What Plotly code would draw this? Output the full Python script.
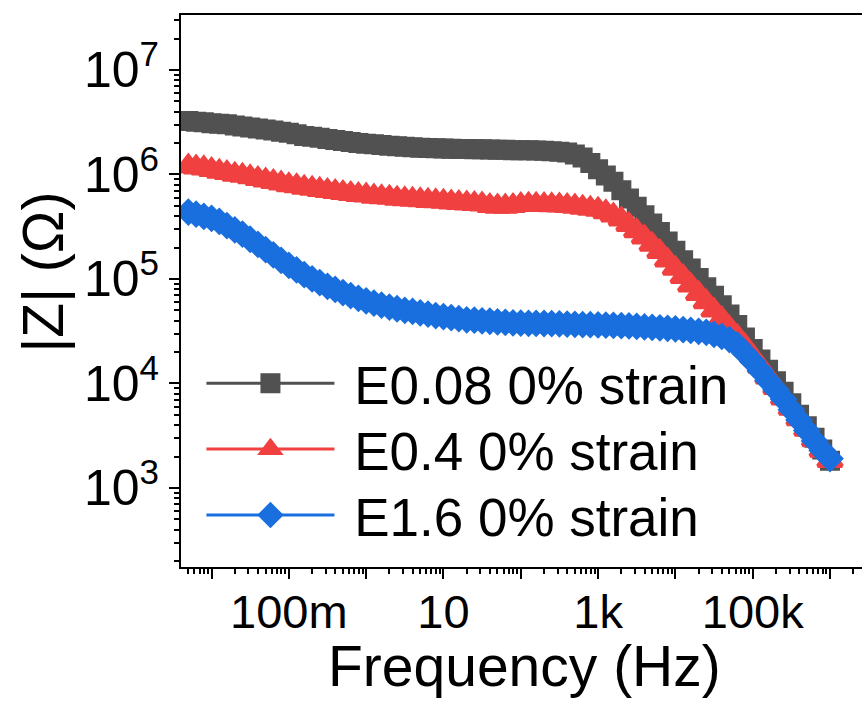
import plotly.graph_objects as go

freq_hz = [
    0.00501, 0.00631, 0.00794, 0.01, 0.0126, 0.0158, 0.02, 0.0251, 0.0316, 0.0398,
    0.0501, 0.0631, 0.0794, 0.1, 0.126, 0.158, 0.2, 0.251, 0.316, 0.398,
    0.501, 0.631, 0.794, 1, 1.26, 1.58, 2, 2.51, 3.16, 3.98,
    5.01, 6.31, 7.94, 10, 12.6, 15.8, 20, 25.1, 31.6, 39.8,
    50.1, 63.1, 79.4, 100, 126, 158, 200, 251, 316, 398,
    501, 631, 794, 1000, 1260, 1580, 2000, 2510, 3160, 3980,
    5010, 6310, 7940, 1e4, 12600, 15800, 20000, 25100, 31600, 39800,
    50100, 63100, 79400, 1e5, 126000, 158000, 200000, 251000, 316000, 398000,
    501000, 631000, 794000, 1e6,
]

z_e008 = [
    3.24e6, 3.20e6, 3.16e6, 3.09e6, 3.05e6, 3.02e6, 2.95e6, 2.88e6, 2.82e6, 2.75e6,
    2.69e6, 2.63e6, 2.57e6, 2.51e6, 2.43e6, 2.34e6, 2.29e6, 2.24e6, 2.19e6, 2.14e6,
    2.09e6, 2.04e6, 2.00e6, 1.97e6, 1.95e6, 1.91e6, 1.88e6, 1.86e6, 1.84e6, 1.82e6,
    1.80e6, 1.79e6, 1.78e6, 1.77e6, 1.76e6, 1.75e6, 1.75e6, 1.74e6, 1.74e6, 1.73e6,
    1.72e6, 1.72e6, 1.71e6, 1.71e6, 1.71e6, 1.70e6, 1.69e6, 1.67e6, 1.65e6, 1.62e6,
    1.55e6, 1.45e6, 1.29e6, 1.12e6, 9.77e5, 8.51e5, 7.08e5, 5.89e5, 4.90e5, 4.07e5,
    3.39e5, 2.82e5, 2.29e5, 1.86e5, 1.51e5, 1.26e5, 1.02e5, 8.32e4, 6.92e4, 5.62e4,
    4.57e4, 3.63e4, 2.75e4, 2.14e4, 1.70e4, 1.35e4, 1.05e4, 8.32e3, 6.46e3, 5.01e3,
    3.89e3, 3.02e3, 2.34e3, 1.82e3,
]

z_e04 = [
    1.20e6, 1.17e6, 1.15e6, 1.11e6, 1.07e6, 1.04e6, 1.00e6, 9.77e5, 9.44e5, 9.12e5,
    8.81e5, 8.51e5, 8.22e5, 7.94e5, 7.76e5, 7.50e5, 7.33e5, 7.16e5, 7.00e5, 6.84e5,
    6.68e5, 6.53e5, 6.38e5, 6.31e5, 6.17e5, 6.10e5, 6.03e5, 5.89e5, 5.82e5, 5.75e5,
    5.69e5, 5.62e5, 5.56e5, 5.50e5, 5.43e5, 5.37e5, 5.31e5, 5.25e5, 5.19e5, 5.01e5,
    4.95e5, 4.95e5, 5.01e5, 5.13e5, 5.15e5, 5.15e5, 5.13e5, 5.11e5, 5.07e5, 5.01e5,
    4.95e5, 4.84e5, 4.73e5, 4.62e5, 4.37e5, 4.07e5, 3.72e5, 3.31e5, 2.88e5, 2.51e5,
    2.14e5, 1.82e5, 1.51e5, 1.26e5, 1.05e5, 8.71e4, 7.24e4, 6.03e4, 5.01e4, 4.17e4,
    3.39e4, 2.82e4, 2.29e4, 1.82e4, 1.45e4, 1.15e4, 9.12e3, 7.24e3, 5.75e3, 4.57e3,
    3.63e3, 2.88e3, 2.29e3, 1.82e3,
]

z_e16 = [
    4.37e5, 4.17e5, 3.98e5, 3.80e5, 3.55e5, 3.24e5, 2.95e5, 2.69e5, 2.40e5, 2.14e5,
    1.91e5, 1.70e5, 1.51e5, 1.35e5, 1.22e5, 1.10e5, 1.00e5, 9.23e4, 8.51e4, 7.94e4,
    7.41e4, 6.92e4, 6.53e4, 6.17e4, 5.89e4, 5.62e4, 5.37e4, 5.19e4, 5.01e4, 4.90e4,
    4.73e4, 4.62e4, 4.47e4, 4.37e4, 4.27e4, 4.17e4, 4.07e4, 4.03e4, 3.98e4, 3.94e4,
    3.89e4, 3.85e4, 3.80e4, 3.78e4, 3.77e4, 3.76e4, 3.75e4, 3.73e4, 3.72e4, 3.70e4,
    3.68e4, 3.66e4, 3.65e4, 3.63e4, 3.61e4, 3.60e4, 3.57e4, 3.55e4, 3.52e4, 3.48e4,
    3.45e4, 3.41e4, 3.37e4, 3.33e4, 3.27e4, 3.22e4, 3.16e4, 3.09e4, 2.95e4, 2.82e4,
    2.63e4, 2.34e4, 1.95e4, 1.62e4, 1.32e4, 1.07e4, 8.71e3, 7.08e3, 5.62e3, 4.47e3,
    3.55e3, 2.82e3, 2.29e3, 1.91e3,
]

series_names = ["E0.08 0% strain", "E0.4 0% strain", "E1.6 0% strain"]
series_values = [z_e008, z_e04, z_e16]
series_colors = ["#515151", "#F14040", "#1A6FDF"]
series_symbols = ["square", "triangle-up", "diamond"]
series_sizes = [16, 21, 17]

x_tick_vals = [1e-2, 1e-1, 1, 10, 100, 1e3, 1e4, 1e5, 1e6]
x_tick_text = ["", "100m", "", "10", "", "1k", "", "100k", ""]
y_tick_vals = [1e3, 1e4, 1e5, 1e6, 1e7]
y_tick_text = ["10<sup>3</sup>", "10<sup>4</sup>", "10<sup>5</sup>", "10<sup>6</sup>", "10<sup>7</sup>"]

FONT = "Liberation Sans, Arial, sans-serif"
legend_ids = ["legend", "legend2", "legend3"]
legend_rows_y = [0.333, 0.2135, 0.094]

fig = go.Figure()
for name, vals, col, sym, sz, lid in zip(series_names, series_values, series_colors,
                                         series_symbols, series_sizes, legend_ids):
    fig.add_trace(go.Scatter(
        x=freq_hz, y=vals, name="\u00a0" + name, mode="lines+markers",
        line=dict(color=col, width=3),
        marker=dict(symbol=sym, size=sz, color=col, line=dict(width=4, color=col)),
        legend=lid,
    ))

x_minor = [m * 10.0 ** e for e in range(-3, 7) for m in range(2, 10)]
y_minor = [m * 10.0 ** e for e in range(2, 8) for m in range(2, 10)]

legend_common = dict(
    x=0.03, xanchor="left", yanchor="middle",
    bgcolor="rgba(0,0,0,0)", borderwidth=0,
    font=dict(size=53, family=FONT, color="black"),
    itemwidth=128,
)

fig.update_layout(
    width=862, height=704,
    margin=dict(l=181, r=0, t=15, b=137),
    paper_bgcolor="white", plot_bgcolor="white",
    font=dict(family=FONT, color="black"),
    showlegend=True,
    legend=dict(y=legend_rows_y[0], **legend_common),
    legend2=dict(y=legend_rows_y[1], **legend_common),
    legend3=dict(y=legend_rows_y[2], **legend_common),
    xaxis=dict(
        type="log", range=[-2.395, 6.414],
        showgrid=False, zeroline=False,
        showline=True, linecolor="black", linewidth=2, mirror=True,
        ticks="outside", ticklen=10, tickwidth=2, tickcolor="black",
        tickvals=x_tick_vals, ticktext=x_tick_text,
        tickfont=dict(size=47, family=FONT, color="black"),
        ticklabelstandoff=-7,
        minor=dict(ticks="outside", ticklen=5, tickwidth=2, tickcolor="black", tickvals=x_minor),
    ),
    yaxis=dict(
        type="log", range=[2.244, 7.526],
        showgrid=False, zeroline=False,
        showline=True, linecolor="black", linewidth=2,
        ticks="outside", ticklen=10, tickwidth=2, tickcolor="black",
        tickvals=y_tick_vals, ticktext=y_tick_text,
        tickfont=dict(size=50, family=FONT, color="black"),
        minor=dict(ticks="outside", ticklen=5, tickwidth=2, tickcolor="black", tickvals=y_minor),
    ),
    annotations=[
        dict(text="Frequency (Hz)", xref="paper", yref="paper", x=0.505, y=-0.179,
             xanchor="center", yanchor="middle", showarrow=False,
             font=dict(size=57, family=FONT, color="black")),
        dict(text="|Z| (Ω)", xref="paper", yref="paper", x=-0.203, y=0.535,
             xanchor="center", yanchor="middle", showarrow=False, textangle=-90,
             font=dict(size=57, family=FONT, color="black")),
    ],
)

fig.write_html("out.html")
